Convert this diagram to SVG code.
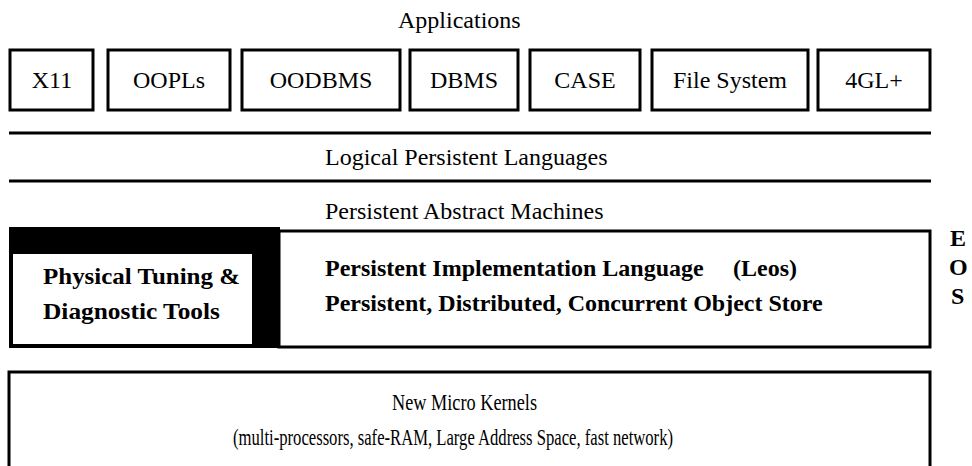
<svg xmlns="http://www.w3.org/2000/svg" width="972" height="466" viewBox="0 0 972 466">
<style>
.box{fill:#fff;stroke:#000;stroke-width:3}
.t{font-family:"Liberation Serif","Times New Roman",serif;font-size:24px;fill:#000}
.c{text-anchor:middle}
.b{font-weight:bold}
.rule{stroke:#000;stroke-width:3}
</style>
<rect width="972" height="466" fill="#fff"/>
<text class="t" x="398" y="28">Applications</text>
<g id="apps">
<g id="x11"><rect class="box" x="10" y="50" width="83" height="60"/><text class="t c" x="52" y="88">X11</text></g>
<g id="oopls"><rect class="box" x="108" y="50" width="122" height="60"/><text class="t c" x="169" y="88">OOPLs</text></g>
<g id="oodbms"><rect class="box" x="242" y="50" width="158" height="60"/><text class="t c" x="321" y="88">OODBMS</text></g>
<g id="dbms"><rect class="box" x="410" y="50" width="108" height="60"/><text class="t c" x="464" y="88">DBMS</text></g>
<g id="case"><rect class="box" x="530" y="50" width="110" height="60"/><text class="t c" x="585" y="88">CASE</text></g>
<g id="fs"><rect class="box" x="652" y="50" width="156" height="60"/><text class="t c" x="730" y="88">File System</text></g>
<g id="4gl"><rect class="box" x="818" y="50" width="112" height="60"/><text class="t c" x="874" y="88">4GL+</text></g>
</g>
<g id="connectors">
<line class="rule" x1="9" y1="133" x2="931" y2="133"/>
<line class="rule" x1="9" y1="181" x2="931" y2="181"/>
</g>
<text class="t" x="325" y="165">Logical Persistent Languages</text>
<text class="t" x="325" y="219">Persistent Abstract Machines</text>
<g id="tools">
<rect x="9" y="227" width="271" height="121" fill="#000"/>
<rect x="13" y="254" width="239" height="90" fill="#fff"/>
<text class="t b" x="43" y="284" textLength="197" lengthAdjust="spacingAndGlyphs">Physical Tuning &amp;</text>
<text class="t b" x="43" y="319" textLength="177" lengthAdjust="spacingAndGlyphs">Diagnostic Tools</text>
</g>
<g id="store">
<rect class="box" x="279" y="231" width="651" height="116"/>
<text class="t b" x="325" y="276">Persistent Implementation Language</text>
<text class="t b" x="733" y="276">(Leos)</text>
<text class="t b" x="325" y="311">Persistent, Distributed, Concurrent Object Store</text>
</g>
<g id="eos">
<text class="t b" x="950" y="246">E</text>
<text class="t b" x="949" y="275">O</text>
<text class="t b" x="951" y="304">S</text>
</g>
<g id="kernels">
<rect class="box" x="9" y="372" width="921" height="100"/>
<text class="t" x="392" y="410" textLength="145" lengthAdjust="spacingAndGlyphs">New Micro Kernels</text>
<text class="t" x="233" y="445" textLength="440" lengthAdjust="spacingAndGlyphs">(multi-processors, safe-RAM, Large Address Space, fast network)</text>
</g>
</svg>
